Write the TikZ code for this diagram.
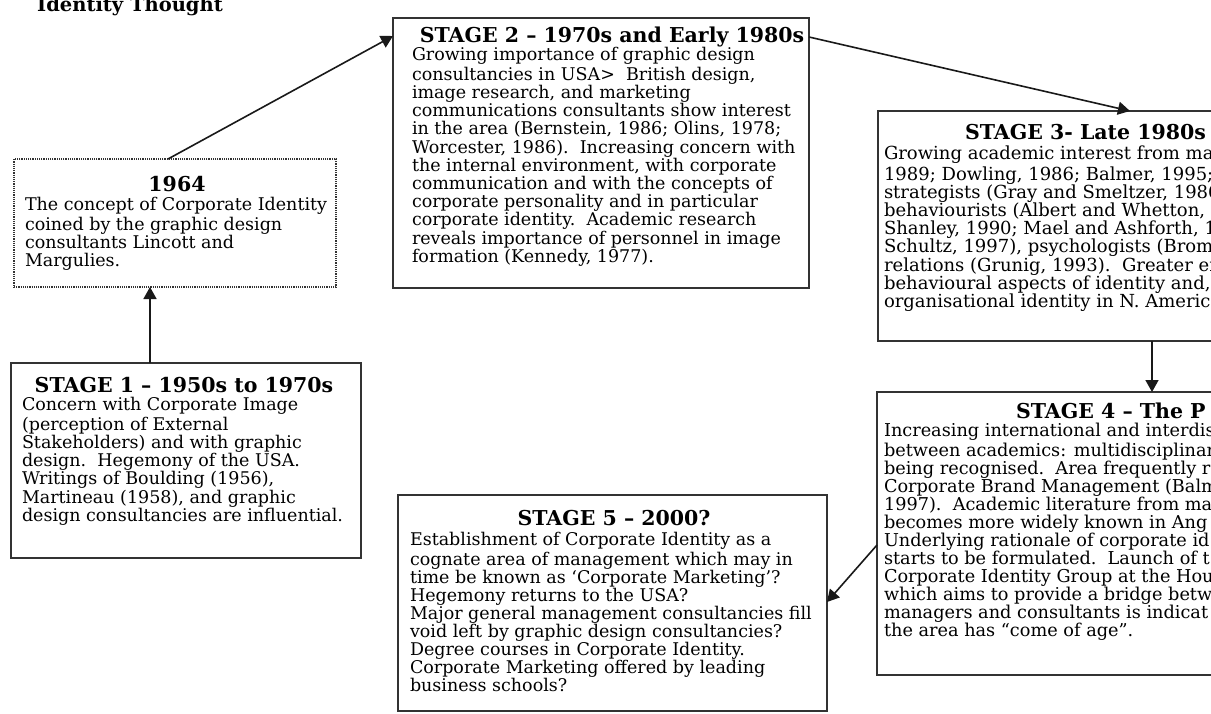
\documentclass[tikz,border=0pt]{standalone}
\usepackage{fontspec}
\setmainfont{DejaVu Serif}
\usetikzlibrary{arrows.meta}
\tikzset{
  stagebox/.style={draw=black!80, line width=1.1pt, inner sep=0pt, outer sep=0pt, anchor=north west},
  dotbox/.style={stagebox, dash pattern=on 1.2pt off 1pt},
  head/.style={inner sep=0pt, outer sep=0pt, font=\fontsize{20.5}{22}\selectfont\bfseries},
  body/.style={inner sep=0pt, outer sep=0pt, anchor=north west, align=left, font=\fontsize{17.5}{18.2}\selectfont},
  link/.style={draw=black!90, line width=1.6pt, -{Triangle[length=12pt,width=13pt]}},
}
\begin{document}
\begin{tikzpicture}[x=1pt,y=-1pt]
\useasboundingbox (0,0) rectangle (1211,713);
\clip (0,0) rectangle (1211,713);

% heading, partly cut by the top edge
\node[inner sep=0pt, anchor=base west, font=\fontsize{19.5}{22}\selectfont\bfseries] (title) at (37,11) {Identity Thought};

% boxes
\node[dotbox, minimum width=322pt, minimum height=128pt] (b1964) at (14,159) {};
\node[stagebox, minimum width=350pt, minimum height=195pt] (s1) at (11,363) {};
\node[stagebox, minimum width=416pt, minimum height=270pt] (s2) at (393,18) {};
\node[stagebox, minimum width=400pt, minimum height=230pt] (s3) at (878,111) {};
\node[stagebox, minimum width=400pt, minimum height=283pt] (s4) at (877,392) {};
\node[stagebox, minimum width=429pt, minimum height=216pt] (s5) at (398,495) {};

% 1964
\node[head, anchor=base] (h1964) at (177,191) {1964};
\node[body] (t1964) at (25,197.3) {\strut The concept of Corporate Identity\\coined by the graphic design\\consultants Lincott and\\Margulies.};

% stage 1
\node[head, anchor=base] (h1) at (184,392) {STAGE 1 – 1950s to 1970s};
\node[body] (t1) at (22,397.3) {\strut Concern with Corporate Image\\(perception of External\\Stakeholders) and with graphic\\design.\ \ Hegemony of the USA.\\Writings of Boulding (1956),\\Martineau (1958), and graphic\\design consultancies are influential.};

% stage 2
\node[head, anchor=base] (h2) at (612,42) {STAGE 2 – 1970s and Early 1980s};
\node[body] (t2) at (412,47.3) {\strut Growing importance of graphic design\\consultancies in USA>\ \ British design,\\image research, and marketing\\communications consultants show interest\\in the area (Bernstein, 1986; Olins, 1978;\\Worcester, 1986).\ \ Increasing concern with\\the internal environment, with corporate\\communication and with the concepts of\\corporate personality and in particular\\corporate identity.\ \ Academic research\\reveals importance of personnel in image\\formation (Kennedy, 1977).};

% stage 3
\node[head, anchor=base west] (h3) at (965,139) {STAGE 3- Late 1980s};
\node[body, font=\fontsize{18}{18.2}\selectfont] (t3) at (884,146.3) {\strut Growing academic interest from ma\\1989; Dowling, 1986; Balmer, 1995;\\strategists (Gray and Smeltzer, 1986\\behaviourists (Albert and Whetton,\\Shanley, 1990; Mael and Ashforth, 1\\Schultz, 1997), psychologists (Broml\\relations (Grunig, 1993).\ \ Greater em\\behavioural aspects of identity and,\\organisational identity in N. America};

% stage 4
\node[head, anchor=base west] (h4) at (1016,418) {STAGE 4 – The P};
\node[body, font=\fontsize{17.7}{18}\selectfont] (t4) at (884,423.4) {\strut Increasing international and interdis\\between academics: multidisciplinar\\being recognised.\ \ Area frequently re\\Corporate Brand Management (Balm\\1997).\ \ Academic literature from ma\\becomes more widely known in Ang\\Underlying rationale of corporate id\\starts to be formulated.\ \ Launch of t\\Corporate Identity Group at the Hou\\which aims to provide a bridge betw\\managers and consultants is indicat\\the area has “come of age”.};

% stage 5
\node[head, anchor=base] (h5) at (614,525) {STAGE 5 – 2000?};
\node[body, font=\fontsize{17.5}{18}\selectfont] (t5) at (410,532.4) {\strut Establishment of Corporate Identity as a\\cognate area of management which may in\\time be known as ‘Corporate Marketing’?\\Hegemony returns to the USA?\\Major general management consultancies fill\\void left by graphic design consultancies?\\Degree courses in Corporate Identity.\\Corporate Marketing offered by leading\\business schools?};

% connectors
\draw[link] ([xshift=139pt]s1.north west) -- ([xshift=136pt]b1964.south west);
\draw[link] ([xshift=154pt]b1964.north west) -- ([yshift=-18pt]s2.north west);
\draw[link] ([yshift=-19pt]s2.north east) -- ([xshift=252pt]s3.north west);
\draw[link] ([xshift=274pt]s3.south west) -- ([xshift=275pt]s4.north west);
\draw[link] ([yshift=-153pt]s4.north west) -- ([yshift=-107pt]s5.north east);
\end{tikzpicture}
\end{document}
